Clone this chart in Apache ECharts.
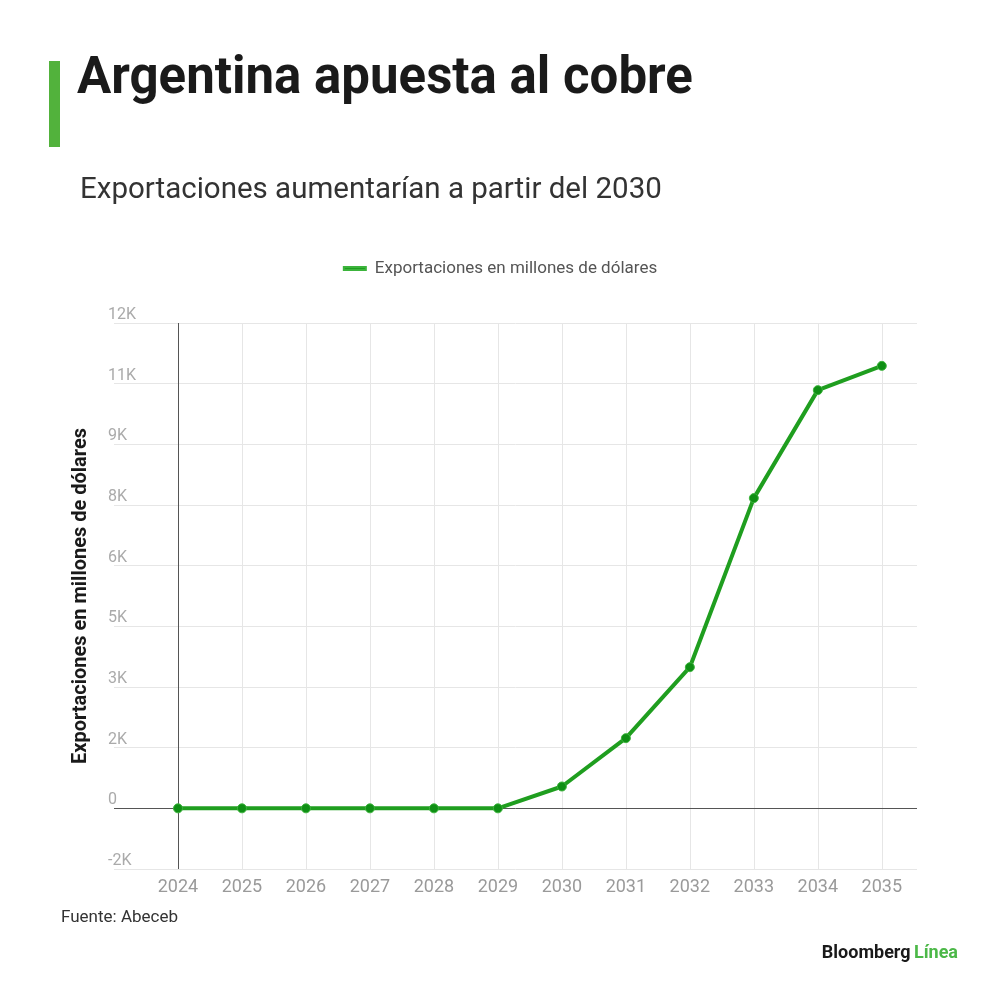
<!DOCTYPE html>
<html>
<head>
<meta charset="utf-8">
<script src="https://cdn.jsdelivr.net/npm/echarts@6/dist/echarts.min.js"></script>
<style>
html,body{margin:0;padding:0;background:#fff;}
#chart{width:1000px;height:1000px;}
</style>
</head>
<body>
<div id="chart"></div>
<script>
const years = [2024, 2025, 2026, 2027, 2028, 2029, 2030, 2031, 2032, 2033, 2034, 2035];
const exportaciones = [0, 0, 0, 0, 0, 0, 540, 1735, 3490, 7670, 10340, 10940];
const seriesName = 'Exportaciones en millones de dólares';
const titleText = 'Argentina apuesta al cobre';
const subtitleText = 'Exportaciones aumentarían a partir del 2030';
const sourceText = 'Fuente: Abeceb';

const FONT = 'Roboto, "Liberation Sans", sans-serif';
const GREEN = '#1f9e1f';

const chart = echarts.init(document.getElementById('chart'), null, {renderer: 'canvas'});
chart.setOption({
  backgroundColor: '#ffffff',
  animation: false,
  textStyle: {fontFamily: FONT},
  title: [
    {text: titleText, left: 72, top: 50, textStyle: {fontSize: 51, fontWeight: 'bold', color: '#1a1a1a', fontFamily: FONT}},
    {text: subtitleText, left: 75, top: 171, textStyle: {fontSize: 29.5, fontWeight: 'normal', color: '#333333', fontFamily: FONT}},
    {text: sourceText, left: 56, top: 904, textStyle: {fontSize: 17, fontWeight: 'normal', color: '#333333', fontFamily: FONT}}
  ],
  graphic: [
    {type: 'rect', left: 49, top: 61, shape: {width: 11, height: 86}, style: {fill: '#52b23c'}},
    {type: 'text', right: 42, top: 944, style: {
      text: '{b|Bloomberg} {g|Línea}',
      rich: {
        b: {fontSize: 18, fontWeight: 'bold', fill: '#1a1a1a', fontFamily: FONT},
        g: {fontSize: 18, fontWeight: 'bold', fill: '#4cb848', fontFamily: FONT}
      }
    }}
  ],
  legend: {
    top: 255, left: 'center',
    itemWidth: 22, itemHeight: 3, itemGap: 10,
    icon: 'rect',
    textStyle: {fontSize: 17, color: '#555555', fontFamily: FONT, padding: [0, 0, 0, 4]},
    data: [{name: seriesName, itemStyle: {color: GREEN}}]
  },
  grid: {left: 114, right: 83, top: 323, bottom: 131, containLabel: false},
  xAxis: {
    type: 'value',
    min: 2023, max: 2035.55, interval: 1,
    axisLine: {show: false},
    axisTick: {show: false},
    splitLine: {show: true, showMinLine: false, showMaxLine: false, lineStyle: {color: '#e6e6e6', width: 1}},
    axisLabel: {
      color: '#9a9a9a', fontSize: 18, margin: 9, fontFamily: FONT,
      formatter: v => (v >= 2024 && Number.isInteger(v)) ? String(v) : ''
    }
  },
  yAxis: {
    type: 'value',
    min: -1500, max: 12000, interval: 1500,
    name: seriesName,
    nameLocation: 'middle',
    nameGap: 23,
    nameTextStyle: {fontSize: 20, fontWeight: 'bold', color: '#1a1a1a', fontFamily: FONT},
    axisLine: {show: false},
    axisTick: {show: false},
    splitLine: {show: true, lineStyle: {color: '#e6e6e6', width: 1}},
    axisLabel: {
      inside: true, verticalAlign: 'bottom', margin: -6,
      color: '#aaaaaa', fontSize: 16, fontFamily: FONT,
      formatter: v => {
        const k = v / 1000;
        const r = Math.sign(k) * Math.round(Math.abs(k));
        return r === 0 ? '0' : r + 'K';
      }
    }
  },
  series: [{
    name: seriesName,
    type: 'line',
    data: years.map((y, i) => [y, exportaciones[i]]),
    lineStyle: {color: GREEN, width: 4},
    itemStyle: {color: '#0f8f14', borderColor: '#3cb43c', borderWidth: 1},
    symbol: 'circle', symbolSize: 9,
    z: 5,
    markLine: {
      silent: true, symbol: 'none', z: 3,
      label: {show: false},
      lineStyle: {color: '#555555', type: 'solid', width: 1},
      data: [{xAxis: 2024}, {yAxis: 0}]
    }
  }]
});
</script>
</body>
</html>
